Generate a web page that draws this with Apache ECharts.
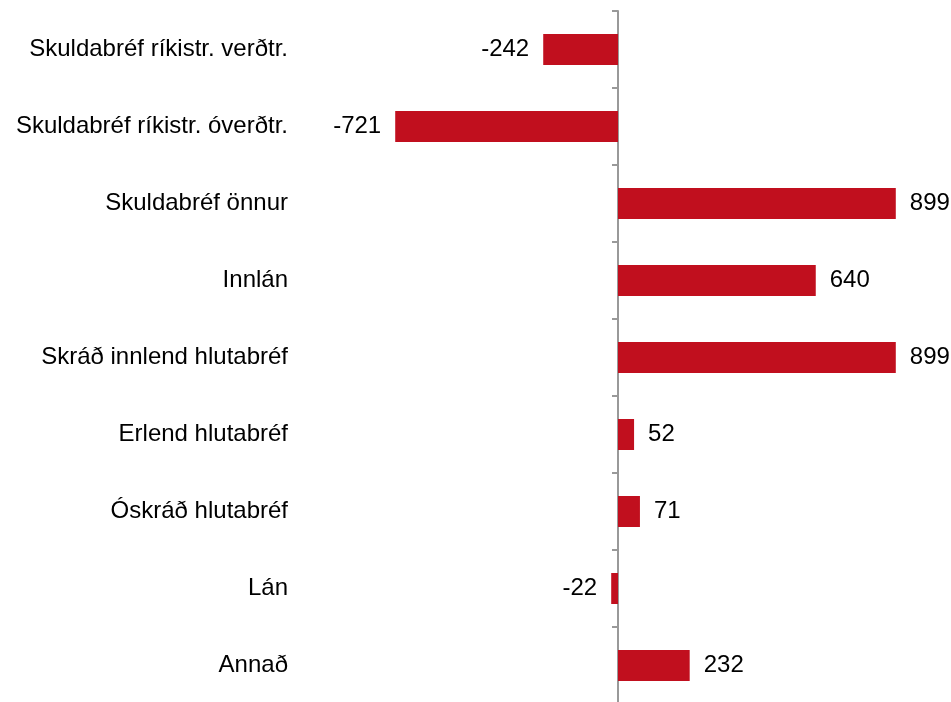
<!DOCTYPE html>
<html>
<head>
<meta charset="utf-8">
<script src="https://cdn.jsdelivr.net/npm/echarts@6/dist/echarts.min.js"></script>
<style>html,body{margin:0;padding:0;background:#fff;}#c{width:951px;height:702px;}</style>
</head>
<body>
<div id="c"></div>
<script>
const categories = ['Skuldabréf ríkistr. verðtr.', 'Skuldabréf ríkistr. óverðtr.', 'Skuldabréf önnur', 'Innlán', 'Skráð innlend hlutabréf', 'Erlend hlutabréf', 'Óskráð hlutabréf', 'Lán', 'Annað'];
const values = [-242, -721, 899, 640, 899, 52, 71, -22, 232];

const chart = echarts.init(document.getElementById('c'), null, {renderer: 'canvas'});
chart.setOption({
  animation: false,
  grid: {left: 309, width: 618, top: 11, height: 693, containLabel: false, outerBoundsMode: 'none'},
  xAxis: {type: 'value', min: -1000, max: 1000, show: false},
  yAxis: {
    type: 'category', data: categories, inverse: true,
    axisLine: {show: true, onZero: true, lineStyle: {color: '#999', width: 2}},
    axisTick: {show: true, length: 6, lineStyle: {color: '#999', width: 2}},
    axisLabel: {margin: 21, color: '#000', fontSize: 24, fontFamily: 'Liberation Sans, Arial, sans-serif'},
    splitLine: {show: false}
  },
  series: [{
    type: 'bar', barWidth: 31,
    data: values.map(v => ({value: v, label: {position: v < 0 ? 'left' : 'right'}})),
    itemStyle: {color: '#C10F1E'},
    label: {show: true, distance: 14, color: '#000', fontSize: 24, fontFamily: 'Liberation Sans, Arial, sans-serif'}
  }]
});
</script>
</body>
</html>
